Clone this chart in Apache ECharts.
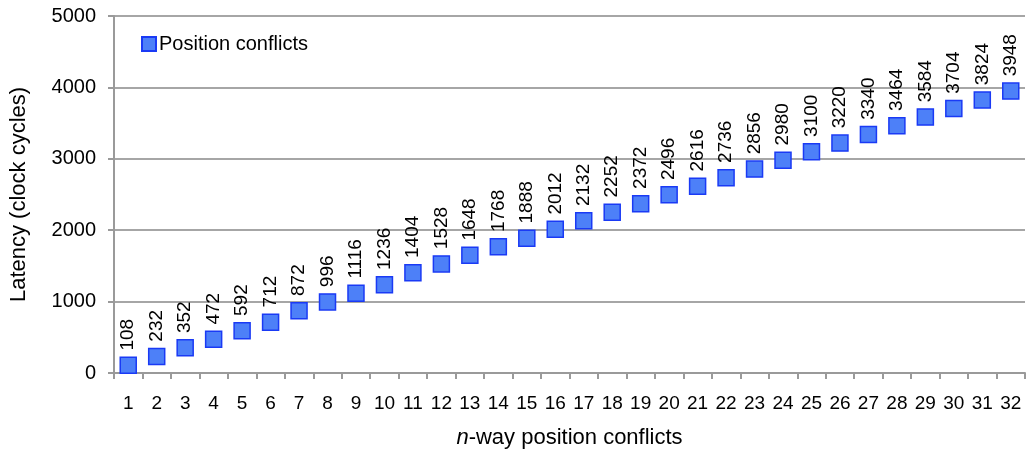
<!DOCTYPE html>
<html>
<head>
<meta charset="utf-8">
<script src="https://cdn.jsdelivr.net/npm/echarts@6/dist/echarts.min.js"></script>
<style>
html,body{margin:0;padding:0;background:#fff;}
#chart{width:1026px;height:455px;}
</style>
</head>
<body>
<div id="chart"></div>
<script>
// n-way position conflicts (1..32)
const categories = ['1','2','3','4','5','6','7','8','9','10','11','12','13','14','15','16',
  '17','18','19','20','21','22','23','24','25','26','27','28','29','30','31','32'];
// Latency in clock cycles
const latency = [108,232,352,472,592,712,872,996,1116,1236,1404,1528,1648,1768,1888,2012,
  2132,2252,2372,2496,2616,2736,2856,2980,3100,3220,3340,3464,3584,3704,3824,3948];
const yTicks = [0,1000,2000,3000,4000,5000];

const font = 'Liberation Sans, Arial, sans-serif';
const chart = echarts.init(document.getElementById('chart'), null, {renderer:'canvas'});
chart.setOption({
  animation:false,
  textStyle:{fontFamily:font},
  grid:{left:112,right:1,top:16,bottom:82,containLabel:false},
  legend:{
    left:136,top:29,itemWidth:14,itemHeight:14,itemGap:4,
    data:[{name:'Position conflicts',icon:'rect'}],
    textStyle:{fontSize:20,color:'#000',fontFamily:font,padding:[0,0,0,-2]}
  },
  xAxis:{
    type:'category',data:categories,boundaryGap:true,
    name:'{i|n}-way position conflicts',nameLocation:'middle',nameGap:54,
    nameTextStyle:{fontSize:22,color:'#000',fontFamily:font,
      rich:{i:{fontStyle:'italic',fontSize:22,color:'#000',fontFamily:font}}},
    axisLine:{lineStyle:{color:'#9a9a9a',width:2}},
    axisTick:{show:true,alignWithLabel:false,length:6,lineStyle:{color:'#9a9a9a',width:2}},
    axisLabel:{fontSize:19,color:'#000',margin:21,fontFamily:font},
    splitLine:{show:false}
  },
  yAxis:{
    type:'value',min:yTicks[0],max:yTicks[yTicks.length-1],interval:1000,
    name:'Latency (clock cycles)',nameLocation:'middle',nameGap:84,nameRotate:90,
    nameTextStyle:{fontSize:22,color:'#000',fontFamily:font},
    axisLine:{show:true,lineStyle:{color:'#9a9a9a',width:2}},
    axisTick:{show:true,length:6,lineStyle:{color:'#9a9a9a',width:2}},
    axisLabel:{fontSize:20,color:'#000',margin:18,fontFamily:font,formatter:v=>String(v)},
    splitLine:{show:true,lineStyle:{color:'#a6a6a6',width:2}}
  },
  series:[{
    name:'Position conflicts',type:'scatter',data:latency,
    symbol:'rect',symbolSize:16,
    itemStyle:{color:'#4d80f8',borderColor:'#1a3af5',borderWidth:1.5,opacity:1},
    label:{
      show:true,position:'top',rotate:90,distance:6,
      align:'left',verticalAlign:'middle',
      fontSize:19,color:'#000',fontFamily:font,
      formatter:p=>String(p.value)
    }
  }]
});
</script>
</body>
</html>
